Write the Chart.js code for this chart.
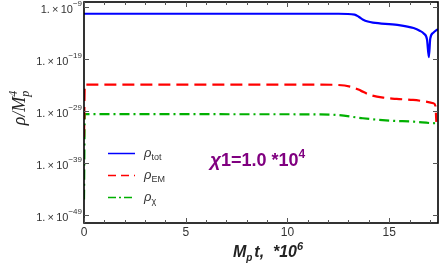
<!DOCTYPE html>
<html>
<head>
<meta charset="utf-8">
<script src="https://cdn.jsdelivr.net/npm/chart.js@4.4.1/dist/chart.umd.min.js"></script>
<style>
html, body { margin: 0; padding: 0; background: #fff; }
#wrap { width: 442px; height: 265px; position: relative; }
</style>
</head>
<body>
<div id="wrap"><canvas id="chart"></canvas></div>
<script>
// time axis, in units of 10^6 / M_p
const tTot = [0, 5, 10, 12.5, 13.3, 13.5, 13.72, 13.95, 14.2, 15.4, 16.2, 16.5, 16.7, 16.86, 16.95, 17.02, 17.17, 17.4];
const rhoTot = [4.47e-11, 4.47e-11, 4.47e-11, 4.4e-11, 3.0e-11, 1.2e-11, 3.16e-12, 1.41e-12, 8.9e-13, 3.16e-13, 7.9e-14, 2.5e-14, 7.0e-15, 5.0e-16, 2.1e-19, 8.0e-16, 1.0e-14, 5.1e-14];

const tEM = [0, 0.04, 5, 10, 12.2, 13.2, 13.6, 14.05, 14.8, 15.37, 16.17, 16.8, 17.17, 17.27, 17.32];
const rhoEM = [1e-34, 1.15e-24, 1.15e-24, 1.15e-24, 1.05e-24, 3.6e-25, 7.9e-26, 1.2e-26, 3.2e-27, 2.0e-27, 1.3e-27, 6.3e-28, 3.0e-28, 1.0e-28, 7.9e-32];

const tChi = [0, 0.04, 5, 11.6, 12.5, 13.7, 15.0, 16.2, 17.3, 17.4];
const rhoChi = [1e-46, 2.34e-30, 2.34e-30, 2.24e-30, 1.58e-30, 4.0e-31, 1.41e-31, 8.7e-32, 4.3e-32, 4.3e-32];

// ticks
const xMajor = [0, 5, 10, 15];
const xMinor = [1, 2, 3, 4, 6, 7, 8, 9, 11, 12, 13, 14, 16, 17];
const yMajor = [1e-49, 1e-39, 1e-29, 1e-19, 1e-9];
const yExp = ['\u221249', '\u221239', '\u221229', '\u221219', '\u22129'];

const toPts = (ts, vs) => ts.map((t, i) => ({ x: t, y: vs[i] }));

const sans = '"Liberation Sans", Arial, sans-serif';

// texte avec exposant / indice
function drawPieces(ctx, pieces, x, y, align) {
    let w = 0;
    pieces.forEach(p => { ctx.font = p.font; w += ctx.measureText(p.text).width + (p.gap || 0); });
    let cx = align === 'right' ? x - w : (align === 'center' ? x - w / 2 : x);
    ctx.textAlign = 'left';
    pieces.forEach(p => {
        ctx.font = p.font;
        ctx.fillText(p.text, cx, y + (p.dy || 0));
        cx += ctx.measureText(p.text).width + (p.gap || 0);
    });
}

const framePlugin = {
    id: 'frame',
    afterDraw(chart) {
        const ctx = chart.ctx;
        const a = chart.chartArea;
        const xs = chart.scales.x, ys = chart.scales.y;
        ctx.save();

        // cadre
        ctx.strokeStyle = '#000';
        ctx.lineWidth = 1.6;
        ctx.strokeRect(a.left, a.top, a.right - a.left, a.bottom - a.top);

        // graduations
        ctx.lineWidth = 1;
        ctx.strokeStyle = '#555';
        ctx.beginPath();
        xMajor.forEach(v => {
            const px = Math.round(xs.getPixelForValue(v)) + 0.5;
            ctx.moveTo(px, a.bottom); ctx.lineTo(px, a.bottom - 5);
            ctx.moveTo(px, a.top); ctx.lineTo(px, a.top + 5);
        });
        xMinor.forEach(v => {
            const px = Math.round(xs.getPixelForValue(v)) + 0.5;
            ctx.moveTo(px, a.bottom); ctx.lineTo(px, a.bottom - 3);
            ctx.moveTo(px, a.top); ctx.lineTo(px, a.top + 3);
        });
        yMajor.forEach(v => {
            const py = Math.round(ys.getPixelForValue(v)) + 0.5;
            ctx.moveTo(a.left, py); ctx.lineTo(a.left + 5, py);
            ctx.moveTo(a.right, py); ctx.lineTo(a.right - 5, py);
        });
        ctx.stroke();

        // étiquettes
        ctx.fillStyle = '#333';
        ctx.textBaseline = 'middle';
        yMajor.forEach((v, i) => {
            const py = ys.getPixelForValue(v);
            drawPieces(ctx, [
                { text: '1.\u2009\u00d7\u200910', font: '11px ' + sans, dy: 3 },
                { text: yExp[i], font: '8px ' + sans, dy: -3 }
            ], a.left - 2, py, 'right');
        });
        ctx.font = '12px ' + sans;
        ctx.textAlign = 'center';
        xMajor.forEach(v => {
            ctx.fillText(String(v), xs.getPixelForValue(v), a.bottom + 10);
        });

        // titres des axes
        ctx.fillStyle = '#222';
        ctx.textBaseline = 'alphabetic';
        drawPieces(ctx, [
            { text: 'M', font: 'italic bold 16px ' + sans },
            { text: 'p', font: 'italic bold 10px ' + sans, dy: 4, gap: 2 },
            { text: 't,  ', font: 'italic bold 16px ' + sans },
            { text: '*10', font: 'italic bold 16px ' + sans },
            { text: '6', font: 'italic bold 11px ' + sans, dy: -7 }
        ], 268, 257, 'center');

        ctx.save();
        ctx.translate(20, 108);
        ctx.rotate(-Math.PI / 2);
        const serif = '"Liberation Serif", "Times New Roman", serif';
        drawPieces(ctx, [
            { text: '\u03c1/M', font: 'italic 18px ' + serif },
            { text: 'p', font: 'italic 12px ' + serif, dy: 4, gap: -6 },
            { text: '4', font: 'italic 12px ' + serif, dy: -8 }
        ], 0, 5, 'center');
        ctx.restore();

        // légende
        const leg = [
            { color: '#0000ff', dash: [], sub: 'tot', y: 153 },
            { color: '#ff0000', dash: [8, 5], sub: 'EM', y: 175 },
            { color: '#00b000', dash: [8, 3, 2, 3], sub: '\u03c7', y: 197 }
        ];
        leg.forEach(l => {
            ctx.strokeStyle = l.color;
            ctx.lineWidth = 1.5;
            ctx.setLineDash(l.dash);
            ctx.beginPath();
            ctx.moveTo(108, l.y + 0.5); ctx.lineTo(135, l.y + 0.5);
            ctx.stroke();
            ctx.setLineDash([]);
            ctx.fillStyle = '#333';
            drawPieces(ctx, [
                { text: '\u03c1', font: 'italic 13px ' + sans },
                { text: l.sub, font: '9px ' + sans, dy: 3 }
            ], 144, l.y + 4, 'left');
        });

        // annotation
        ctx.fillStyle = '#800080';
        drawPieces(ctx, [
            { text: '\u03c7', font: 'italic bold 19px ' + sans },
            { text: '1=1.0 *10', font: 'bold 18px ' + sans },
            { text: '4', font: 'bold 12px ' + sans, dy: -8 }
        ], 210, 166, 'left');

        ctx.restore();
    }
};

const ctx = document.getElementById('chart').getContext('2d');
new Chart(ctx, {
    type: 'line',
    data: {
        datasets: [
            { label: 'rho_tot', data: toPts(tTot, rhoTot), borderColor: '#0000ff', borderWidth: 2.2 },
            { label: 'rho_EM', data: toPts(tEM, rhoEM), borderColor: '#ff0000', borderWidth: 2.2, borderDash: [12, 6] },
            { label: 'rho_chi', data: toPts(tChi, rhoChi), borderColor: '#00b000', borderWidth: 2.2, borderDash: [10, 4, 2, 4] }
        ]
    },
    options: {
        responsive: true,
        maintainAspectRatio: false,
        devicePixelRatio: 1,
        animation: false,
        layout: { padding: { left: 84, top: 2, right: 4, bottom: 42 } },
        elements: {
            point: { radius: 0 },
            line: { cubicInterpolationMode: 'monotone', fill: false }
        },
        plugins: { legend: { display: false }, tooltip: { enabled: false } },
        scales: {
            x: { type: 'linear', min: 0, max: 17.4, display: false },
            y: {
                type: 'logarithmic', min: 3.16e-51, max: 7.94e-9, display: false,
                afterBuildTicks: (s) => { s.ticks = yMajor.map(v => ({ value: v })); }
            }
        }
    },
    plugins: [framePlugin]
});
</script>
</body>
</html>
